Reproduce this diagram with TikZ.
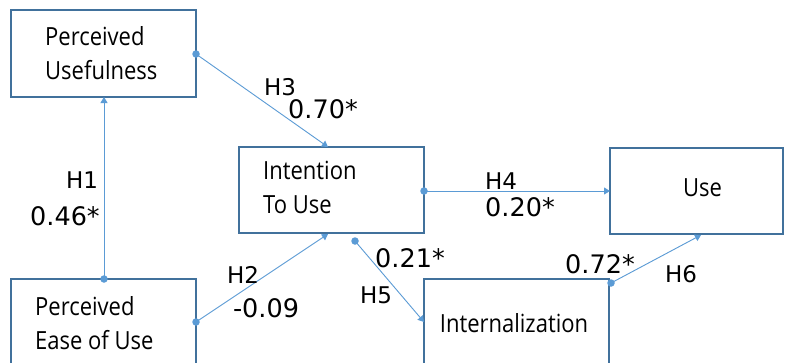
\documentclass[tikz,border=0pt]{standalone}
\usepackage{fontspec}
\setmainfont[FakeStretch=0.88]{Open Sans}
\newfontfamily\labelfont{DejaVu Sans}
\usetikzlibrary{arrows.meta}
\definecolor{boxline}{HTML}{41719C}
\definecolor{linkline}{HTML}{5B9BD5}
\begin{document}
\begin{tikzpicture}[x=1pt,y=-1pt,
  box/.style={draw=boxline,line width=1.4pt,fill=white,inner sep=0pt},
  boxtext/.style={align=left,inner sep=0pt,font=\fontsize{25}{34}\selectfont,text=black},
  link/.style={draw=linkline,line width=0.9pt,-{Triangle[width=7pt,length=6pt]}},
  dot/.style={circle,fill=linkline,inner sep=0pt,minimum size=7.5pt},
  hlab/.style={anchor=base,inner sep=0pt,font=\labelfont\fontsize{23}{23}\selectfont,text=black},
  nlab/.style={anchor=base,inner sep=0pt,font=\labelfont\fontsize{25.5}{25.5}\selectfont,text=black}]
\clip (0,0) rectangle (785,362);
\fill[white] (0,0) rectangle (785,362);
% boxes
\node[box,minimum width=185pt,minimum height=87pt] (pu)  at (103.5,53.5) {};
\node[box,minimum width=185pt,minimum height=86pt] (itu) at (331.5,190) {};
\node[box,minimum width=173pt,minimum height=86pt] (use) at (696.5,191) {};
\node[box,minimum width=185pt,minimum height=100pt] (int) at (516.5,329) {};
\node[box,minimum width=185pt,minimum height=100pt] (peu) at (103.5,329) {};
% box captions
\node[boxtext,anchor=west] (putext)  at (45,53)    {Perceived\\Usefulness};
\node[boxtext,anchor=west] (itutext) at (263,187.5) {Intention\\To Use};
\node[boxtext] (usetext) at (702.5,188) {Use};
\node[boxtext] (inttext) at (514,323) {Internalization};
\node[boxtext,anchor=west] (peutext) at (35,323) {Perceived\\Ease of Use};
% connector ends
\coordinate (h1s) at (104,279);  \coordinate (h1e) at (104,97);
\coordinate (h2s) at (196,322);  \coordinate (h2e) at (328,234);
\coordinate (h3s) at (196,54);   \coordinate (h3e) at (328,147);
\coordinate (h4s) at (424,191);  \coordinate (h4e) at (610,191);
\coordinate (h5s) at (355,241);  \coordinate (h5e) at (424,322);
\coordinate (h6s) at (611,283);  \coordinate (h6e) at (701,235);
\foreach \h in {h1,h2,h3,h4,h5,h6}{
  \draw[link] (\h s) -- (\h e);
  \node[dot] (\h dot) at (\h s) {};
}
% path labels
\node[hlab] (l1)  at (82,188)  {H1};
\node[nlab] (n1)  at (65,225)  {0.46*};
\node[hlab] (l2)  at (243,283) {H2};
\node[nlab] (n2)  at (266,317) {-0.09};
\node[hlab] (l3)  at (280,95)  {H3};
\node[nlab] (n3)  at (323,118) {0.70*};
\node[hlab] (l4)  at (501,189) {H4};
\node[nlab] (n4)  at (520,216) {0.20*};
\node[nlab] (n5)  at (410,267) {0.21*};
\node[hlab] (l5)  at (376,303) {H5};
\node[nlab] (n6)  at (600,273) {0.72*};
\node[hlab] (l6)  at (681,282) {H6};
\end{tikzpicture}
\end{document}
